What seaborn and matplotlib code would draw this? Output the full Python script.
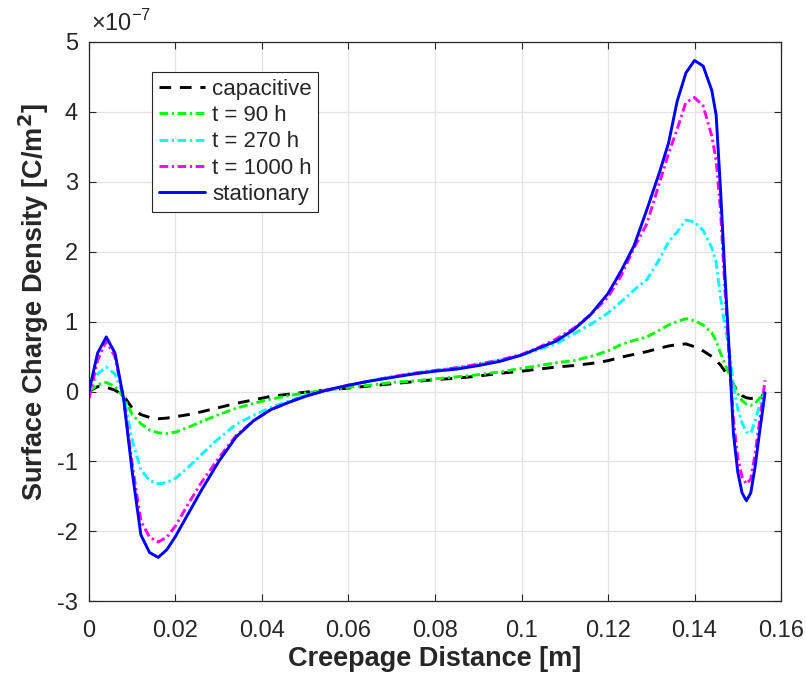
import numpy as np
import pandas as pd
import matplotlib
matplotlib.use("Agg")
import matplotlib.pyplot as plt
import seaborn as sns

# ---------------- data (y in units of 1e-7 C/m^2) ----------------
x_m = [0, 0.002, 0.004, 0.006, 0.008, 0.010, 0.012, 0.014, 0.016, 0.018, 0.020,
       0.023, 0.026, 0.030, 0.034, 0.038, 0.042, 0.046, 0.050, 0.055, 0.060,
       0.065, 0.070, 0.075, 0.080, 0.085, 0.090, 0.095, 0.100, 0.104, 0.108,
       0.112, 0.116, 0.120, 0.123, 0.126, 0.129, 0.132, 0.134, 0.136, 0.138,
       0.140, 0.142, 0.144, 0.145, 0.146, 0.147, 0.148, 0.149, 0.150, 0.151,
       0.152, 0.153, 0.154, 0.155, 0.1563]

capacitive = [0.0, 0.07, 0.06, 0.02, -0.06, -0.24, -0.33, -0.37, -0.39, -0.38, -0.36,
              -0.33, -0.29, -0.23, -0.17, -0.12, -0.07, -0.04, -0.01, 0.02, 0.05,
              0.08, 0.11, 0.14, 0.17, 0.19, 0.22, 0.26, 0.29, 0.32, 0.35,
              0.37, 0.40, 0.44, 0.49, 0.53, 0.57, 0.62, 0.65, 0.67, 0.68,
              0.64, 0.58, 0.50, 0.44, 0.38, 0.29, 0.20, 0.10, 0.0, -0.06,
              -0.09, -0.10, -0.09, -0.07, -0.05]

t90 = [0.0, 0.10, 0.13, 0.07, -0.08, -0.33, -0.46, -0.55, -0.59, -0.60, -0.58,
       -0.51, -0.43, -0.33, -0.24, -0.17, -0.11, -0.06, -0.02, 0.02, 0.06,
       0.09, 0.13, 0.15, 0.18, 0.21, 0.24, 0.28, 0.33, 0.37, 0.41,
       0.44, 0.50, 0.58, 0.67, 0.73, 0.78, 0.88, 0.95, 1.00, 1.04,
       1.01, 0.95, 0.84, 0.72, 0.55, 0.40, 0.25, 0.10, -0.03, -0.13,
       -0.18, -0.20, -0.17, -0.10, -0.02]

t270 = [0.0, 0.25, 0.35, 0.25, -0.05, -0.70, -1.12, -1.27, -1.32, -1.30, -1.24,
        -1.08, -0.90, -0.67, -0.47, -0.34, -0.23, -0.14, -0.06, 0.02, 0.09,
        0.15, 0.21, 0.26, 0.30, 0.34, 0.39, 0.45, 0.52, 0.60, 0.68,
        0.82, 0.96, 1.12, 1.28, 1.45, 1.60, 1.90, 2.14, 2.28, 2.45,
        2.42, 2.30, 2.05, 1.85, 1.35, 0.95, 0.60, 0.10, -0.25, -0.45,
        -0.58, -0.60, -0.42, -0.20, 0.0]

t1000 = [-0.10, 0.45, 0.72, 0.50, -0.10, -1.05, -1.85, -2.08, -2.15, -2.08, -1.92,
         -1.60, -1.30, -0.95, -0.63, -0.42, -0.26, -0.16, -0.06, 0.02, 0.09,
         0.15, 0.21, 0.26, 0.30, 0.34, 0.39, 0.45, 0.53, 0.63, 0.75,
         0.90, 1.10, 1.35, 1.65, 2.05, 2.40, 3.00, 3.40, 3.75, 4.13,
         4.20, 4.08, 3.65, 3.30, 2.60, 1.50, 0.50, -0.40, -0.95, -1.22,
         -1.32, -1.25, -0.90, -0.45, 0.16]

stationary = [0.0, 0.55, 0.78, 0.55, -0.10, -1.15, -2.05, -2.30, -2.37, -2.26, -2.07,
              -1.74, -1.41, -1.00, -0.65, -0.42, -0.26, -0.16, -0.07, 0.02, 0.09,
              0.15, 0.20, 0.25, 0.29, 0.32, 0.37, 0.43, 0.52, 0.62, 0.72,
              0.88, 1.10, 1.40, 1.72, 2.08, 2.60, 3.15, 3.55, 4.15, 4.55,
              4.73, 4.65, 4.30, 3.95, 2.90, 1.70, 0.60, -0.60, -1.15, -1.45,
              -1.56, -1.45, -1.08, -0.60, -0.02]

labels = ["capacitive", "t = 90 h", "t = 270 h", "t = 1000 h", "stationary"]
series = [capacitive, t90, t270, t1000, stationary]
colors = ["#000000", "#00ff00", "#00ffff", "#ff00ff", "#0000ff"]

x_ticks = [0, 0.02, 0.04, 0.06, 0.08, 0.1, 0.12, 0.14, 0.16]
x_ticklabels = ["0", "0.02", "0.04", "0.06", "0.08", "0.1", "0.12", "0.14", "0.16"]
y_ticks = [-3, -2, -1, 0, 1, 2, 3, 4, 5]

# ---------------- plotting ----------------
sns.set_theme(style="whitegrid")
plt.rcParams["font.family"] = ["Liberation Sans", "DejaVu Sans"]
plt.rcParams["axes.unicode_minus"] = False

fig = plt.figure(figsize=(8.06, 6.75), dpi=100)
ax = fig.add_axes([0.1104, 0.1089, 0.8586, 0.8296])

dash_styles = [(4.0, 3.0), (3.0, 1.2, 0.8, 1.2), (3.0, 1.2, 0.8, 1.2), (3.0, 1.2, 0.8, 1.2), None]

for lab, ys, col, ds in zip(labels, series, colors, dash_styles):
    df = pd.DataFrame({"x": x_m, "y": ys})
    sns.lineplot(data=df, x="x", y="y", ax=ax, color=col, linewidth=2.1,
                 label=lab, sort=False)
    line = ax.lines[-1]
    if ds is not None:
        line.set_dashes(ds)

ax.set_xlim(0, 0.16)
ax.set_ylim(-3, 5)
ax.set_xticks(x_ticks)
ax.set_xticklabels(x_ticklabels)
ax.set_yticks(y_ticks)
ax.set_yticklabels([str(v) for v in y_ticks])

ax.grid(True, color="#e3e3e3", linewidth=0.9)
for s in ax.spines.values():
    s.set_visible(True)
    s.set_color("#262626")
    s.set_linewidth(0.9)
ax.tick_params(axis="both", which="both", direction="in", length=5, width=0.8,
               colors="#262626", labelcolor="#262626", labelsize=17,
               top=True, right=True, bottom=True, left=True)
ax.tick_params(axis="x", pad=13)
ax.tick_params(axis="y", pad=8)

ax.set_xlabel("Creepage Distance [m]", fontsize=19.5, fontweight="bold",
              color="#262626", labelpad=3)
ax.set_ylabel("Surface Charge Density [C/m$^\\mathbf{2}$]", fontsize=19.5,
              fontweight="bold", color="#262626")
ax.yaxis.set_label_coords(-0.055, 0.535)

ax.text(0.003, 1.01, "\u00d710$^{\\mathregular{-7}}$", transform=ax.transAxes,
        fontsize=17, color="#262626", ha="left", va="bottom")

leg = ax.legend(loc="upper left", bbox_to_anchor=(0.091, 0.9455), fontsize=16,
                frameon=True, fancybox=False, handlelength=2.1,
                handletextpad=0.3, labelspacing=0.24, borderpad=0.3,
                borderaxespad=0.0)
leg.get_frame().set_edgecolor("#262626")
leg.get_frame().set_linewidth(0.8)
leg.get_frame().set_facecolor("white")
leg.get_frame().set_alpha(1.0)

fig.savefig("out.png", dpi=100)
